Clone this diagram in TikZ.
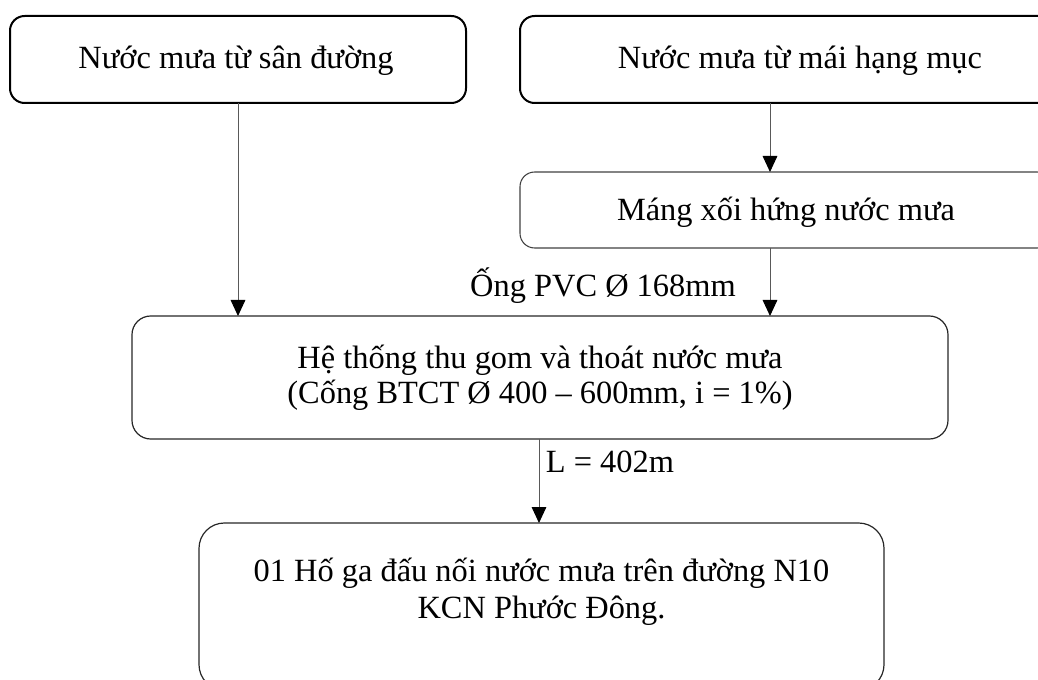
\documentclass[tikz,border=0pt]{standalone}
\usepackage{fontspec}
\setmainfont{Liberation Serif}
\usetikzlibrary{arrows.meta}
\begin{document}
\begin{tikzpicture}[x=0.75pt,y=-0.75pt,
  every node/.style={inner sep=0pt,outer sep=0pt},
  txt/.style={font=\fontsize{24.3}{27}\selectfont,align=center},
  heavybox/.style={draw=black,line width=1.5pt,rounded corners=11pt},
  lightbox/.style={draw=black!75,line width=0.8pt,rounded corners=11pt},
  midbox/.style={draw=black!85,line width=0.9pt,rounded corners=14pt},
  bigbox/.style={draw=black!85,line width=0.9pt,rounded corners=19pt},
  flow/.style={draw=black!65,line width=0.7pt,
    -{Triangle[length=12pt,width=11pt,color=black]}}]
\useasboundingbox (0,0) rectangle (1038,680);
\begin{scope}
\clip (0,0) rectangle (1038,680);
% source boxes
\node[heavybox,minimum width=456*0.75pt,minimum height=87*0.75pt] (road) at (238,59.5) {};
\node[txt] (roadT) at (236,61) {Nước mưa từ sân đường};
\node[heavybox,minimum width=560*0.75pt,minimum height=87*0.75pt] (roof) at (800,59.5) {};
\node[txt] (roofT) at (800,61) {Nước mưa từ mái hạng mục};
% gutter
\node[lightbox,minimum width=532*0.75pt,minimum height=76*0.75pt] (gutter) at (786,210) {};
\node[txt] (gutterT) at (786,212) {Máng xối hứng nước mưa};
% collection network
\node[midbox,minimum width=816*0.75pt,minimum height=123*0.75pt] (net) at (540,377.5) {};
\node[txt,font=\fontsize{24.3}{26}\selectfont] (netT) at (540,378) {Hệ thống thu gom và thoát nước mưa\\(Cống BTCT Ø 400 – 600mm, i = 1\%)};
% connection manhole
\node[bigbox,minimum width=685*0.75pt,minimum height=167*0.75pt] (pit) at (541.5,606.5) {};
\node[txt,font=\fontsize{24.3}{28}\selectfont] (pitT) at (541.5,592) {01 Hố ga đấu nối nước mưa trên đường N10\\KCN Phước Đông.};
\end{scope}
% connectors
\coordinate (colA) at (770,0);
\coordinate (colB) at (539,0);
\draw[flow] (road.south) -- (road.south |- net.north);
\draw[flow] (roof.south -| colA) -- (gutter.north -| colA);
\draw[flow] (gutter.south -| colA) -- (net.north -| colA);
\draw[flow] (net.south -| colB) -- (pit.north -| colB);
% pipe labels
\node[txt] (pipe) at (603,286) {Ống PVC Ø 168mm};
\node[txt] (len) at (610,462) {L = 402m};
\end{tikzpicture}
\end{document}
